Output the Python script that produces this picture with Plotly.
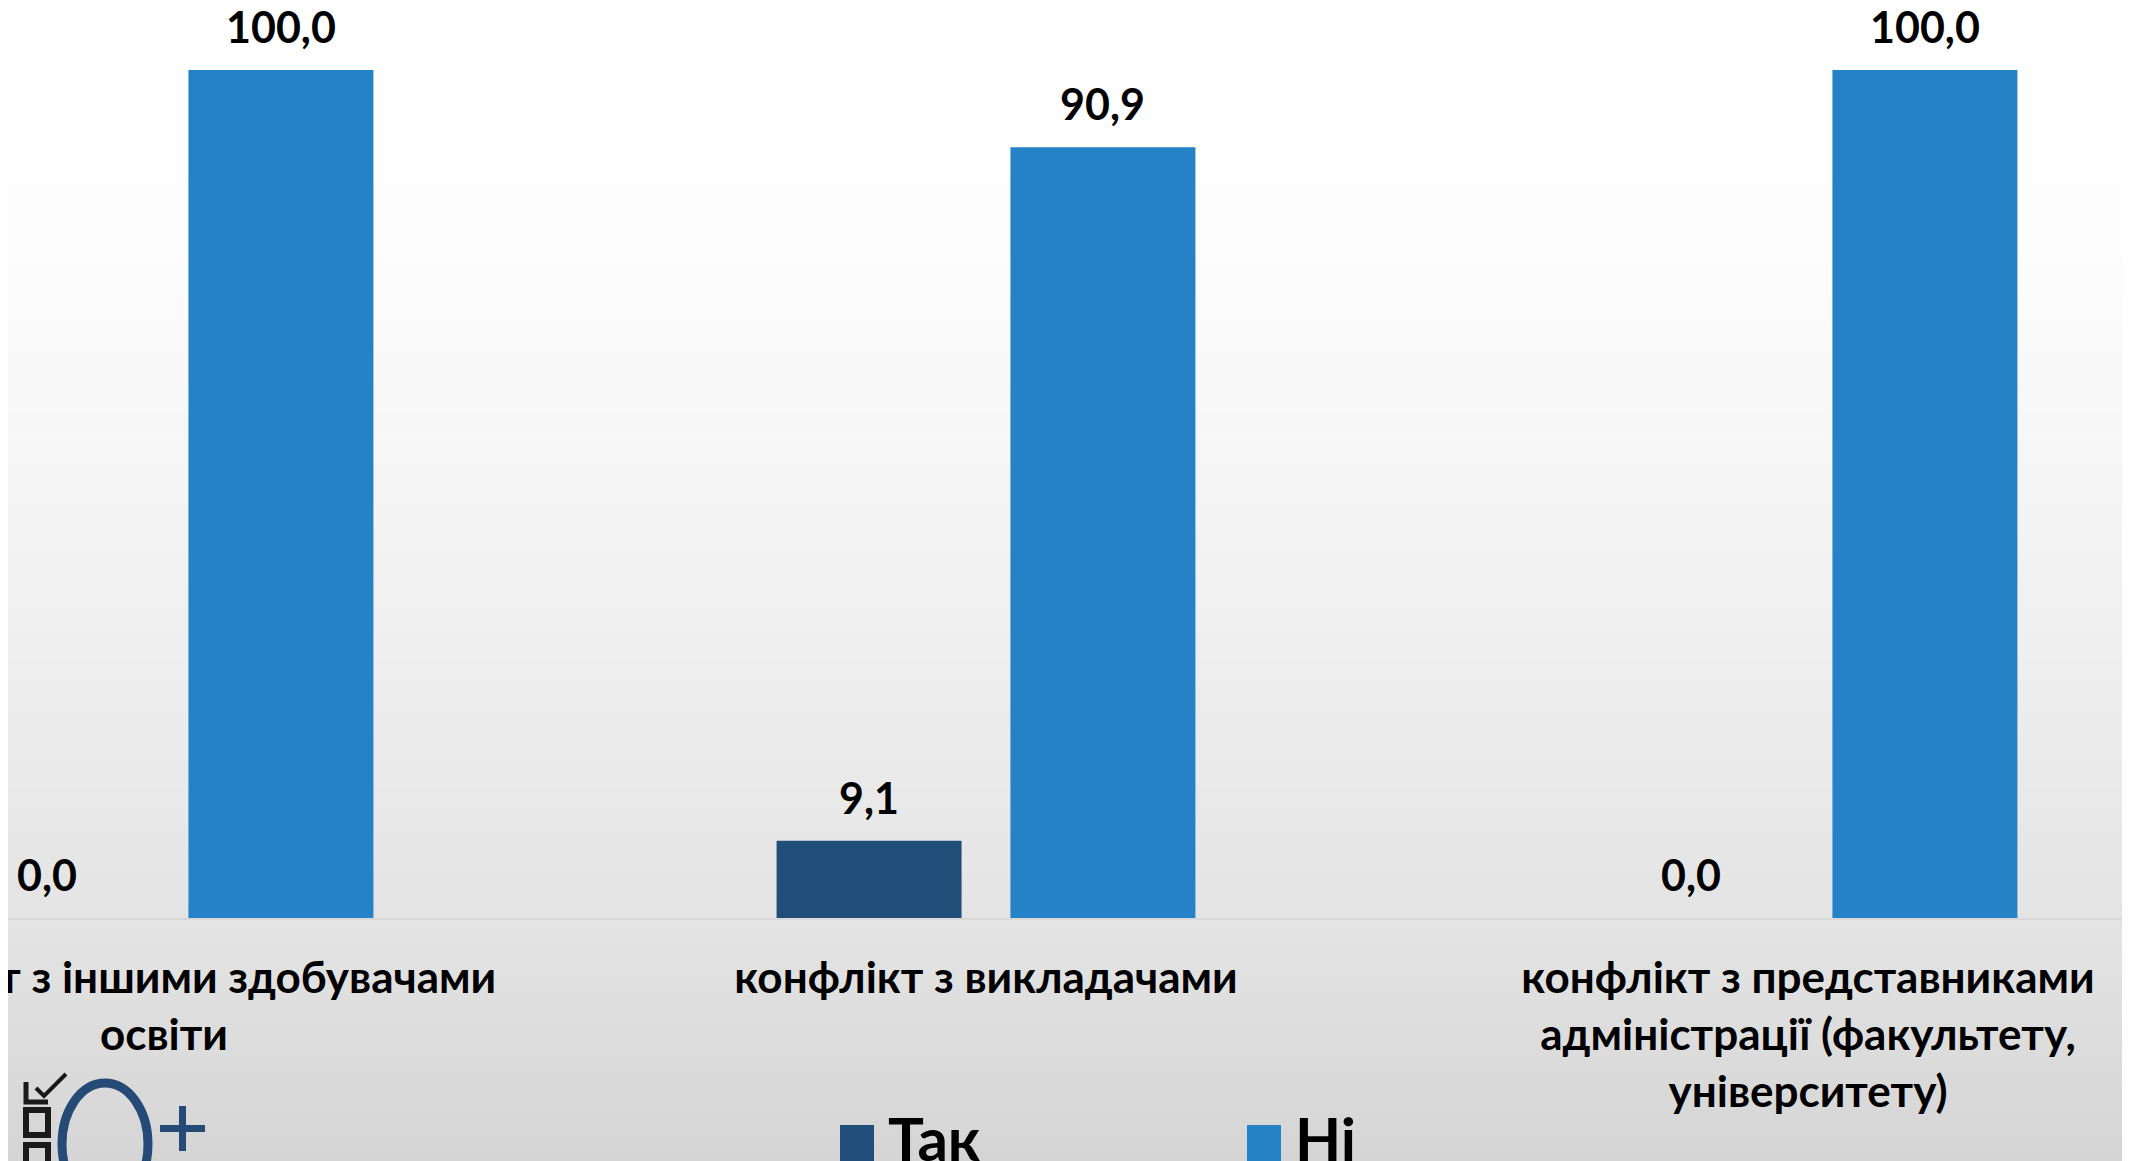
import plotly.graph_objects as go

# ---------------- data ----------------
categories = [
    "конфлікт з іншими здобувачами освіти",
    "конфлікт з викладачами",
    "конфлікт з представниками адміністрації (факультету, університету)",
]
tick_labels = [
    "конфлікт з іншими здобувачами<br>освіти",
    "конфлікт з викладачами",
    "конфлікт з представниками<br>адміністрації (факультету,<br>університету)",
]
series_names = ["Так", "Ні"]
values_yes = [0.0, 9.1, 0.0]
values_no = [100.0, 90.9, 100.0]
series_values = [values_yes, values_no]
series_colors = ["#1F4E79", "#2582C6"]

# page offset of the figure (browser body margin) is compensated
OFF = 8
W, H = 2130 - OFF, 1161 - OFF
BASE = 918 - OFF      # baseline within figure
MB = H - BASE
PLOT_H = BASE
BARGAP = 0.431
BARGROUPGAP = 0.209
FONT = "Lato"


def px_x(x):
    """reference-image x pixel -> paper coordinate"""
    return (x - OFF) / W


def px_y(y):
    """reference-image y pixel -> paper coordinate"""
    return (PLOT_H - (y - OFF)) / PLOT_H


fig = go.Figure()
for name, vals, col in zip(series_names, series_values, series_colors):
    fig.add_trace(go.Bar(
        x=categories, y=vals, name=name,
        marker=dict(color=col, line=dict(width=0)),
        showlegend=False, hoverinfo="x+y+name",
    ))

# data labels, placed via the axes (category index + group offset)
slot = (1 - BARGAP) / len(series_names)
annotations = []
for si, vals in enumerate(series_values):
    off = -(1 - BARGAP) / 2 + slot * (si + 0.5)
    for ci, v in enumerate(vals):
        annotations.append(dict(
            x=ci + off, y=v, xref="x", yref="y",
            text="<b>" + f"{v:.1f}".replace(".", ",") + "</b>",
            showarrow=False, yanchor="bottom", yshift=16,
            font=dict(family=FONT, size=43, color="#000000"),
        ))

# legend (drawn as swatches + text at bottom)
legend_x = [840, 1247]
shapes = []
for i, (name, col) in enumerate(zip(series_names, series_colors)):
    x0 = legend_x[i]
    shapes.append(dict(
        type="rect", xref="paper", yref="paper", layer="above",
        x0=px_x(x0), x1=px_x(x0 + 34),
        y0=px_y(1125), y1=px_y(1175),
        fillcolor=col, line=dict(width=0),
    ))
    annotations.append(dict(
        x=px_x(x0 + 46), y=px_y(1100), xref="paper", yref="paper",
        xanchor="left", yanchor="top", showarrow=False,
        text="<b>" + name + "</b>",
        font=dict(family=FONT, size=60, color="#000000"),
    ))

# logo fragment at bottom-left (decorative)
LOGO_BLUE = "#254A75"
logo = [
    dict(type="rect", x0=px_x(-2), x1=px_x(8), y0=px_y(1080), y1=px_y(1170),
         fillcolor=LOGO_BLUE, line=dict(width=0)),
    dict(type="circle", x0=px_x(62), x1=px_x(148), y0=px_y(1083), y1=px_y(1205),
         fillcolor="rgba(0,0,0,0)", line=dict(color=LOGO_BLUE, width=9)),
    dict(type="rect", x0=px_x(160), x1=px_x(205), y0=px_y(1125), y1=px_y(1132),
         fillcolor=LOGO_BLUE, line=dict(width=0)),
    dict(type="rect", x0=px_x(179), x1=px_x(186), y0=px_y(1106), y1=px_y(1151),
         fillcolor=LOGO_BLUE, line=dict(width=0)),
    # checkbox column
    dict(type="path", path="M {} {} L {} {} L {} {}".format(
        px_x(26), px_y(1082), px_x(26), px_y(1102), px_x(48), px_y(1102)),
        line=dict(color="#1a1a1a", width=5), fillcolor="rgba(0,0,0,0)"),
    dict(type="path", path="M {} {} L {} {} L {} {}".format(
        px_x(36), px_y(1088), px_x(44), px_y(1096), px_x(66), px_y(1074)),
        line=dict(color="#1a1a1a", width=4), fillcolor="rgba(0,0,0,0)"),
    dict(type="rect", x0=px_x(26), x1=px_x(48), y0=px_y(1110), y1=px_y(1135),
         fillcolor="rgba(0,0,0,0)", line=dict(color="#1a1a1a", width=6)),
    dict(type="rect", x0=px_x(26), x1=px_x(48), y0=px_y(1145), y1=px_y(1175),
         fillcolor="rgba(0,0,0,0)", line=dict(color="#1a1a1a", width=6)),
]
for s in logo:
    s.update(xref="paper", yref="paper", layer="above")


# background gradient (style)
def grey_at(py):
    pts = [(0, 255), (250, 253), (600, 241), (918, 228), (1161, 213)]
    for (a, ca), (b, cb) in zip(pts[:-1], pts[1:]):
        if a <= py <= b:
            return ca + (cb - ca) * (py - a) / (b - a)
    return pts[-1][1]


N = 90
bg_shapes = []
for k in range(N):
    p0 = 1161 * k / N
    p1 = 1161 * (k + 1) / N + 1
    g = int(round(grey_at((p0 + p1) / 2)))
    bg_shapes.append(dict(
        type="rect", xref="paper", yref="paper", layer="below",
        x0=-0.01, x1=1.01, y0=px_y(p0), y1=px_y(p1),
        fillcolor=f"rgb({g},{g},{g})", line=dict(width=0),
    ))

# axis ranges: category 0 centred at x=164 px of the reference, 822 px per category
x_min = (OFF - 164) / 822.0
x_max = x_min + W / 822.0
y_max = PLOT_H / 848.0 * 100

fig.update_layout(
    width=W, height=H,
    margin=dict(l=0, r=0, t=0, b=MB, pad=0, autoexpand=False),
    paper_bgcolor="#d5d5d5", plot_bgcolor="rgba(0,0,0,0)",
    barmode="group", bargap=BARGAP, bargroupgap=BARGROUPGAP,
    showlegend=False,
    shapes=bg_shapes + shapes + logo,
    annotations=annotations,
    xaxis=dict(
        type="category", range=[x_min, x_max], automargin=False,
        tickvals=categories, ticktext=["<b>" + t + "</b>" for t in tick_labels],
        tickfont=dict(family=FONT, size=44, color="#000000"),
        showline=True, linecolor="#d8d8d8", linewidth=2,
        showgrid=False, zeroline=False, ticks="", ticklabelstandoff=20,
        fixedrange=True,
    ),
    yaxis=dict(range=[0, y_max], visible=False, showgrid=False, zeroline=False,
               fixedrange=True, automargin=False),
)

fig.write_html("out.html")
